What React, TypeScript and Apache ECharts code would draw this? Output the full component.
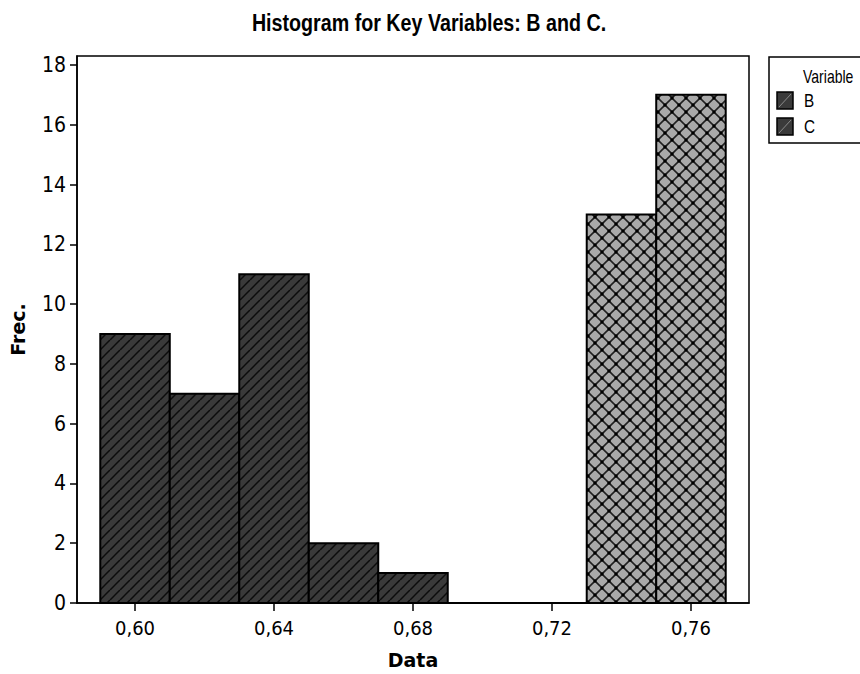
import React, { useEffect, useRef } from "react";
import * as echarts from "echarts";

const titleText = "Histogram for Key Variables: B and C.";
const xName = "Data";
const yName = "Frec.";
const legendTitle = "Variable";
const variables = ["B", "C"];

// bins: [start, end]
const binsB = [
  [0.59, 0.61],
  [0.61, 0.63],
  [0.63, 0.65],
  [0.65, 0.67],
  [0.67, 0.69],
  [0.69, 0.71],
  [0.71, 0.73],
];
const countsB = [9, 7, 11, 2, 1, 0, 0];
const binsC = [
  [0.73, 0.75],
  [0.75, 0.77],
];
const countsC = [13, 17];

const xTicks = [0.6, 0.64, 0.68, 0.72, 0.76];
const yTicks = [0, 2, 4, 6, 8, 10, 12, 14, 16, 18];

const NARROW = "'Liberation Sans Narrow', 'Arial Narrow', 'DejaVu Sans Condensed', sans-serif";
const SANS = "'Liberation Sans', Arial, sans-serif";
const BOLDWIDE = "'DejaVu Sans', Verdana, sans-serif";

function makeHatch(P: number) {
  const c = document.createElement("canvas");
  c.width = P;
  c.height = P;
  const ctx = c.getContext("2d")!;
  ctx.fillStyle = "#3a3a3a";
  ctx.fillRect(0, 0, P, P);
  ctx.strokeStyle = "#0c0c0c";
  ctx.lineWidth = 1.5;
  for (const k of [-1, 0, 1]) {
    ctx.beginPath();
    ctx.moveTo(k * P, P);
    ctx.lineTo(k * P + P, 0);
    ctx.stroke();
  }
  return c;
}

function makeCross(P: number) {
  const c = document.createElement("canvas");
  c.width = P;
  c.height = P;
  const ctx = c.getContext("2d")!;
  ctx.fillStyle = "#a9a9a9";
  ctx.fillRect(0, 0, P, P);
  ctx.strokeStyle = "#202020";
  ctx.lineWidth = 1.6;
  for (const k of [-1, 0, 1]) {
    ctx.beginPath();
    ctx.moveTo(k * P, P);
    ctx.lineTo(k * P + P, 0);
    ctx.stroke();
    ctx.beginPath();
    ctx.moveTo(k * P, 0);
    ctx.lineTo(k * P + P, P);
    ctx.stroke();
  }
  ctx.fillStyle = "#000";
  for (const [x, y] of [
    [0, 0],
    [P, 0],
    [0, P],
    [P, P],
    [P / 2, P / 2],
  ]) {
    ctx.fillRect(x - 1.5, y - 1.5, 3, 3);
  }
  return c;
}

export default function App() {
  const ref = useRef<HTMLDivElement>(null);
  useEffect(() => {
    if (!ref.current) return;
    const chart = echarts.init(ref.current, undefined, { renderer: "svg" });
    const hatch = { image: makeHatch(10), repeat: "repeat" };
    const cross = { image: makeCross(14), repeat: "repeat" };

    const dataB = binsB.map((b, i) => [b[0], b[1], countsB[i]]);
    const dataC = binsC.map((b, i) => [b[0], b[1], countsC[i]]);

    const mkRender = (fill: any) => (params: any, api: any) => {
      const x0 = api.value(0);
      const x1 = api.value(1);
      const y = api.value(2);
      const p0 = api.coord([x0, y]);
      const p1 = api.coord([x1, 0]);
      return {
        type: "rect",
        shape: { x: p0[0], y: p0[1], width: p1[0] - p0[0], height: p1[1] - p0[1] },
        style: { fill, stroke: "#000", lineWidth: 2 },
      };
    };

    const graphics: any[] = [
      {
        type: "text",
        x: 429,
        y: 23,
        scaleX: 0.82,
        style: {
          text: titleText,
          font: `bold 24px ${SANS}`,
          fill: "#000",
          textAlign: "center",
          textVerticalAlign: "middle",
        },
      },
      {
        type: "rect",
        shape: { x: 769, y: 57, width: 120, height: 86 },
        style: { fill: "#fff", stroke: "#000", lineWidth: 1.5 },
      },
      {
        type: "text",
        x: 803,
        y: 76,
        scaleX: 0.78,
        style: { text: legendTitle, font: `18px ${SANS}`, fill: "#000", textVerticalAlign: "middle" },
      },
    ];
    variables.forEach((v, i) => {
      const sy = 92 + i * 26;
      graphics.push(
        {
          type: "rect",
          shape: { x: 777, y: sy, width: 16, height: 17 },
          style: { fill: "#3a3a3a", stroke: "#000", lineWidth: 1.5 },
        },
        {
          type: "line",
          shape: { x1: 779, y1: sy + 15, x2: 791, y2: sy + 2 },
          style: { stroke: "#8a8a8a", lineWidth: 1 },
        },
        {
          type: "text",
          x: 804,
          y: sy + 9,
          scaleX: 0.85,
          style: { text: v, font: `18px ${SANS}`, fill: "#000", textVerticalAlign: "middle" },
        }
      );
    });

    chart.setOption({
      animation: false,
      backgroundColor: "#fff",
      grid: {
        left: 76,
        right: 111,
        top: 56,
        bottom: 71,
        show: true,
        borderColor: "#000",
        borderWidth: 1.5,
        backgroundColor: "#fff",
      },
      xAxis: {
        type: "value",
        min: 0.5833,
        max: 0.7767,
        name: xName,
        nameLocation: "middle",
        nameGap: 47,
        nameTextStyle: { fontFamily: BOLDWIDE, fontWeight: "bold", fontSize: 19, color: "#000" },
        axisLine: { show: true, lineStyle: { color: "#000", width: 1.5 } },
        axisTick: { show: true, length: 8, customValues: xTicks, lineStyle: { color: "#000", width: 1.5 } },
        axisLabel: {
          customValues: xTicks,
          formatter: (v: number) => v.toFixed(2).replace(".", ","),
          fontFamily: NARROW,
          fontSize: 20,
          color: "#000",
          margin: 15,
        },
        splitLine: { show: false },
      },
      yAxis: {
        type: "value",
        min: 0,
        max: 18.3,
        name: yName,
        nameLocation: "middle",
        nameGap: 50,
        nameTextStyle: { fontFamily: BOLDWIDE, fontWeight: "bold", fontSize: 19, color: "#000" },
        axisLine: { show: true, lineStyle: { color: "#000", width: 1.5 } },
        axisTick: { show: true, length: 7, customValues: yTicks, lineStyle: { color: "#000", width: 1.5 } },
        axisLabel: {
          customValues: yTicks,
          fontFamily: NARROW,
          fontSize: 21,
          color: "#000",
          margin: 11,
        },
        splitLine: { show: false },
      },
      graphic: graphics,
      series: [
        {
          type: "custom",
          name: variables[0],
          renderItem: mkRender(hatch),
          encode: { x: [0, 1], y: 2 },
          data: dataB,
          clip: false,
        },
        {
          type: "custom",
          name: variables[1],
          renderItem: mkRender(cross),
          encode: { x: [0, 1], y: 2 },
          data: dataC,
          clip: false,
        },
      ],
    });
    return () => chart.dispose();
  }, []);
  return (
    <div
      ref={ref}
      style={{ position: "absolute", left: 0, top: 0, width: 860, height: 674 }}
    />
  );
}
